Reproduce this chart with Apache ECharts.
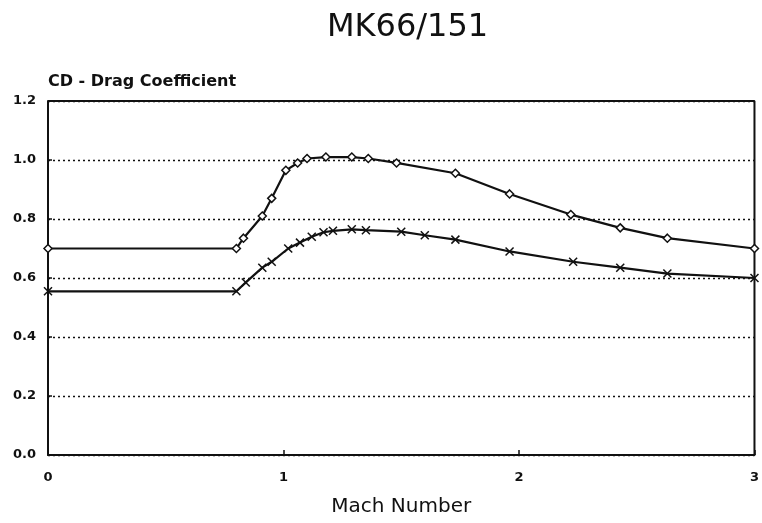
<!DOCTYPE html>
<html>
<head>
<meta charset="utf-8">
<script src="https://cdn.jsdelivr.net/npm/echarts@6/dist/echarts.min.js"></script>
<style>
  html, body { margin: 0; padding: 0; background: #fff; }
  #chart { width: 762px; height: 523px; }
</style>
</head>
<body>
<div id="chart"></div>
<script>
// Drag coefficient vs Mach number, two configurations
const machUpper = [0, 0.80, 0.83, 0.91, 0.95, 1.01, 1.06, 1.10, 1.18, 1.29, 1.36, 1.48, 1.73, 1.96, 2.22, 2.43, 2.63, 3.0];
const cdUpper   = [0.70, 0.70, 0.735, 0.81, 0.87, 0.965, 0.99, 1.005, 1.01, 1.01, 1.005, 0.99, 0.955, 0.885, 0.815, 0.77, 0.735, 0.70];

const machLower = [0, 0.80, 0.84, 0.91, 0.95, 1.02, 1.07, 1.12, 1.17, 1.21, 1.29, 1.35, 1.50, 1.60, 1.73, 1.96, 2.23, 2.43, 2.63, 3.0];
const cdLower   = [0.555, 0.555, 0.585, 0.635, 0.655, 0.70, 0.72, 0.74, 0.755, 0.76, 0.765, 0.762, 0.757, 0.745, 0.73, 0.69, 0.655, 0.635, 0.615, 0.60];

const xTicks = [0, 1, 2, 3];
const yTicks = [0.0, 0.2, 0.4, 0.6, 0.8, 1.0, 1.2];

const pairs = (xs, ys) => xs.map((x, i) => [x, ys[i]]);

const ink = '#111';
const labelFont = '"DejaVu Sans", sans-serif';

const chart = echarts.init(document.getElementById('chart'), null, { renderer: 'canvas' });
chart.setOption({
  backgroundColor: '#fff',
  animation: false,
  title: {
    text: 'MK66/151',
    left: 322,
    top: 7,
    textStyle: { fontFamily: labelFont, fontSize: 32, fontWeight: 'normal', color: ink }
  },
  grid: { left: 48, right: 7, top: 101, bottom: 68 },
  xAxis: {
    type: 'value',
    min: xTicks[0],
    max: xTicks[xTicks.length - 1],
    interval: 1,
    name: 'Mach Number',
    nameLocation: 'middle',
    nameGap: 42,
    nameTextStyle: { fontFamily: labelFont, fontSize: 20, color: ink },
    axisLine: { show: true, lineStyle: { color: ink, width: 2 } },
    axisTick: { show: true, inside: true, length: 5, lineStyle: { color: ink, width: 1.5 } },
    axisLabel: { fontFamily: labelFont, fontSize: 13, fontWeight: 'bold', color: ink, margin: 16 },
    splitLine: { show: false }
  },
  yAxis: {
    type: 'value',
    min: yTicks[0],
    max: yTicks[yTicks.length - 1],
    interval: 0.2,
    name: 'CD - Drag Coefficient',
    nameLocation: 'end',
    nameGap: 11,
    nameTextStyle: { fontFamily: labelFont, fontSize: 16, fontWeight: 'bold', color: ink, align: 'left' },
    axisLine: { show: true, lineStyle: { color: ink, width: 2 } },
    axisTick: { show: true, inside: true, length: 4, lineStyle: { color: ink, width: 1.5 } },
    axisLabel: { fontFamily: labelFont, fontSize: 13, fontWeight: 'bold', color: ink, margin: 12,
                 formatter: v => v.toFixed(1) },
    splitLine: { show: true, lineStyle: { color: ink, type: [2, 3], width: 1.3 } }
  },
  series: [
    {
      // frame: top and right edges of the plot box
      type: 'line',
      data: [[0, 1.2], [3, 1.2], [3, 0]],
      symbol: 'none',
      lineStyle: { color: ink, width: 2 },
      silent: true,
      z: 1
    },
    {
      name: 'upper',
      type: 'line',
      data: pairs(machUpper, cdUpper),
      symbol: 'diamond',
      symbolSize: 8,
      itemStyle: { color: '#fff', borderColor: ink, borderWidth: 1.5 },
      lineStyle: { color: ink, width: 2.2 },
      z: 3
    },
    {
      name: 'lower',
      type: 'line',
      data: pairs(machLower, cdLower),
      symbol: 'path://M0,0L10,10M10,0L0,10',
      symbolSize: 8,
      itemStyle: { color: 'transparent', borderColor: ink, borderWidth: 1.5 },
      lineStyle: { color: ink, width: 2.2 },
      z: 3
    }
  ]
});
</script>
</body>
</html>
